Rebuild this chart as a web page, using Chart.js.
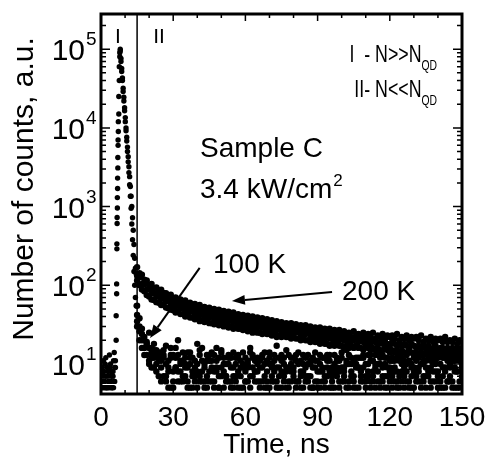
<!DOCTYPE html>
<html lang="en">
<head>
  <meta charset="UTF-8" />
  <title>PL decay, Sample C</title>
  <script src="https://cdn.jsdelivr.net/npm/chart.js"></script>
  <style>
    html, body { margin: 0; padding: 0; background: #fff; }
    #wrap { width: 490px; height: 459px; }
  </style>
</head>
<body>
  <div id="wrap"><canvas id="decayChart" width="490" height="459"></canvas></div>

  <script>
    // ---- data (time in ns, counts a.u.) ----
    // background before the pulse
    const tPre = [0.2,0.7,1.2,1.7,2.2,2.7,3.2,3.7,4.2,4.7,5.2,5.7];
    const kPre1 = [8,5,6,10,5,7,5,9,6,5,11,6];
    const kPre2 = [5,6,8,5,7,5,6,5,8,7,5,9];

    // laser pulse region: background, rise and fast decay
    const tHead = [0,0.5,1,1.5,2,2.5,3,3.5,4,4.5,5,5.5,6,
      6.3,6.5,6.6,6.7,6.8,6.9,7,7.1,7.2,7.4,7.6,7.8,8,
      8.3,8.6,8.9,9.2,9.5,9.8,10.1,10.4,10.7,11,11.3,11.6,11.9,12.2,12.5,12.8,13.1,13.4,13.7,14,14.3,14.6];
    const k200Head = [6,9,5,7,12,5,8,6,10,5,7,14,9,
      20,78,290,610,960,1700,3100,6000,9000,15000,40000,80000,100000,
      76000,57000,43000,32000,24500,18000,13500,10000,7600,5700,4300,3200,2400,1800,1350,1000,720,500,330,220,165,140];
    const k100Head = [5,7,11,6,5,9,6,13,7,5,8,6,11,
      41,104,336,727,1300,2300,4200,7000,12000,25000,60000,90000,95000,
      70000,52000,40000,29000,22000,16500,12000,9200,6800,5000,3700,2700,1900,1350,950,600,380,240,150,100,70,55];

    // tail, one bin per ns
    const tTail = [15,16,17,18,19,20,21,22,23,24,25,26,27,28,29,30,31,32,33,34,35,36,37,38,39,40,
      41,42,43,44,45,46,47,48,49,50,51,52,53,54,55,56,57,58,59,60,61,62,63,64,65,66,67,68,69,70,
      71,72,73,74,75,76,77,78,79,80,81,82,83,84,85,86,87,88,89,90,91,92,93,94,95,96,97,98,99,100,
      101,102,103,104,105,106,107,108,109,110,111,112,113,114,115,116,117,118,119,120,
      121,122,123,124,125,126,127,128,129,130,131,132,133,134,135,136,137,138,139,140,
      141,142,143,144,145,146,147,148,149,150];

    // 200 K: slow component (upper / middle / lower scatter of the band)
    const k200Hi = [170,142,136,118,115,101,104,92,94,83,88,80,79,72,76,68,70,63,66,61,
      64,57,60,55,58,52,56,50,53,48,52,47,50,45,49,44,47,43,46,42,
      45,40,43,39,42,38,41,37,40,36,39,35,38,34,37,33,36,32,35,32,
      34,31,33,30,33,30,32,29,31,28,31,28,30,27,29,26,29,26,28,25,
      28,25,27,24,27,24,
      26,23,25,22,26,23,24,22,25,23,
      24,22,25,21,23,22,24,21,23,22,
      23,21,24,20,22,21,23,20,22,21,
      22,20,23,19,21,20,22,19,21,20,
      21,19,22,19,20,19,21,18,20,19];
    const k200Mid = [132,126,104,103,88,90,79,80,72,75,
      67,70,62,64,57,60,54,57,51,54,
      48,51,46,49,44,47,42,45,40,43,
      39,42,38,40,37,39,36,38,35,37,
      34,36,32,35,32,34,31,33,30,32,
      29,31,29,31,28,30,27,29,27,29,
      26,28,26,27,25,27,25,26,24,26,
      24,25,23,25,22,24,22,23,21,23,
      21,22,20,22,20,22,20,21,19,21,
      20,21,19,20,19,20,19,18,20,19,
      18,19,18,19,18,17,19,18,17,18,
      17,18,17,16,18,17,16,17,16,17,
      16,17,15,16,17,15,16,16,15,16,
      15,16,15,16,15,16];
    const k200Lo = [115,100,88,84,75,72,66,65,61,60,56,56,52,51,49,48,45,46,43,43,
      40,41,39,39,37,38,35,36,34,35,33,33,32,33,31,32,30,31,29,30,
      28,29,28,28,27,28,26,27,25,26,25,25,24,25,24,24,23,24,22,23,
      22,23,22,22,21,22,21,21,20,21,20,20,19,20,19,19,18,19,18,18,
      17,18,17,18,17,17,
      16,17,16,17,16,17,16,16,15,17,
      16,15,16,15,16,15,15,16,15,14,
      15,14,15,14,15,14,14,15,14,13,
      14,13,14,13,14,13,13,14,13,12,
      13,14,12,13,12,14,13,12,13,12];

    // 100 K: fast decay into the background counts
    const k100A = [55,38,28,22,18,16,14,12,15,11,
      9,13,7,11,16,8,12,6,10,14,
      7,9,12,5,11,8,15,6,10,7,
      13,9,5,11,7,14,8,6,12,9,
      5,10,13,7,9,6,11,16,7,8,
      12,5,9,14,6,10,7,13,5,9,
      11,7,15,6,8,12,5,10,7,13,
      9,6,11,5,14,8,10,6,12,7,
      5,9,13,7,11,6,8,15,5,10,
      7,12,9,6,13,5,8,11,7,10,
      14,6,9,5,12,8,7,11,6,13,
      8,5,10,14,7,9,6,12,5,11,
      9,13,6,8,11,5,10,7,15,6,
      9,12,5,8,11,7];
    const k100B = [42,30,24,20,17,25,12,18,10,14,
      6,12,17,8,5,13,9,20,6,11,
      10,5,14,8,6,18,7,11,5,13,
      6,11,8,16,5,9,12,7,10,5,
      14,6,8,11,5,12,9,7,13,6,
      8,11,6,10,5,12,9,6,17,7,
      5,10,8,13,6,9,11,6,8,5,
      12,7,10,5,9,6,13,8,5,11,
      8,6,10,12,5,9,7,11,6,8,
      11,5,9,7,12,6,10,5,8,13,
      6,10,7,12,5,9,11,6,8,5,
      10,7,13,6,9,5,11,8,6,10,
      5,8,11,6,10,7,5,12,8,6,
      10,6,9,5,12,8];
    const k100C = [35,26,20,16,13,11,9,15,8,12,
      14,7,10,5,12,6,9,13,8,7,
      12,6,10,7,9,5,13,8,6,11,
      8,14,6,9,12,7,5,10,13,6,
      9,7,12,5,10,8,6,14,9,11,
      6,9,13,7,11,5,10,8,6,12,
      8,12,5,9,10,7,13,6,11,8,
      6,10,7,12,6,11,5,9,7,13,
      11,7,5,9,8,12,6,10,13,7,
      5,9,12,8,6,10,7,13,6,9,
      8,12,6,10,7,11,5,9,12,7,
      6,11,8,5,10,12,7,9,13,6,
      11,7,9,12,6,8,13,5,9,11,
      7,5,11,8,6,9];
    const k100D = [30,20,16,13,19,10,16,9,13,7,
      11,15,6,9,13,5,16,8,11,6,
      9,14,5,12,7,10,6,16,9,5,
      11,6,13,8,5,15,10,7,6,12,
      7,12,5,9,14,6,10,5,12,8,
      10,6,12,5,8,14,6,11,9,5,
      13,6,9,5,12,8,6,14,5,10,
      7,13,5,9,11,5,8,12,6,9,
      13,5,8,11,6,14,9,5,10,12,
      6,10,5,12,9,7,13,6,11,5,
      10,5,13,7,9,6,12,8,5,11,
      12,9,6,11,5,8,13,6,10,7,
      7,12,5,10,8,13,6,9,5,12,
      6,11,8,13,5,10];

    // axes
    const xTicks = [0, 30, 60, 90, 120, 150];
    const yExponents = [1, 2, 3, 4, 5];
    const regionBoundary = 15;           // ns, line between regions I and II
    const arrow100 = [[41, 166], [20.4, 21.4]];
    const arrow200 = [[96, 82], [54.4, 63]];

    const FONT = '"Liberation Sans", Arial, Helvetica, sans-serif';
    const pts = (ts, vs) => ts.map((t, i) => ({ x: t, y: vs[i] }));

    function txt(ctx, s, x, y, size, align) {
      ctx.font = size + 'px ' + FONT;
      ctx.textAlign = align || 'left';
      ctx.textBaseline = 'alphabetic';
      ctx.fillText(s, x, y);
      return ctx.measureText(s).width;
    }

    function arrow(ctx, xs, ys, a) {
      const x0 = xs.getPixelForValue(a[0][0]), y0 = ys.getPixelForValue(a[0][1]);
      const x1 = xs.getPixelForValue(a[1][0]), y1 = ys.getPixelForValue(a[1][1]);
      const ang = Math.atan2(y1 - y0, x1 - x0);
      const L = 13, W = 5;
      const bx = x1 - L * Math.cos(ang), by = y1 - L * Math.sin(ang);
      ctx.lineWidth = 2;
      ctx.beginPath(); ctx.moveTo(x0, y0); ctx.lineTo(bx, by); ctx.stroke();
      ctx.beginPath();
      ctx.moveTo(x1, y1);
      ctx.lineTo(bx + W * Math.sin(ang), by - W * Math.cos(ang));
      ctx.lineTo(bx - W * Math.sin(ang), by + W * Math.cos(ang));
      ctx.closePath(); ctx.fill();
    }

    // legend line like "I  - N>>N" with subscript QD, squeezed horizontally
    function regimeLine(ctx, main, sub, xRight, base, sx) {
      ctx.save();
      ctx.font = '24px ' + FONT;
      const w1 = ctx.measureText(main).width;
      ctx.font = '14px ' + FONT;
      const w2 = ctx.measureText(sub).width;
      ctx.translate(xRight - (w1 + w2) * sx, base);
      ctx.scale(sx, 1);
      txt(ctx, main, 0, 0, 24);
      txt(ctx, sub, w1, 8, 14);
      ctx.restore();
    }

    const decorations = {
      id: 'decorations',
      beforeDatasetsDraw(chart) {
        const { ctx, chartArea: a, scales: { x } } = chart;
        const px = x.getPixelForValue(regionBoundary);
        ctx.save();
        ctx.strokeStyle = '#000';
        ctx.lineWidth = 1.5;
        ctx.beginPath(); ctx.moveTo(px, a.top); ctx.lineTo(px, a.bottom); ctx.stroke();
        ctx.restore();
      },
      afterDatasetsDraw(chart) {
        const { ctx, chartArea: a, scales: { x, y } } = chart;
        ctx.save();
        ctx.strokeStyle = '#000';
        ctx.fillStyle = '#000';

        // inward ticks, all four sides
        ctx.lineWidth = 1.5;
        ctx.beginPath();
        for (let v = 0; v <= 150; v += 10) {
          const p = x.getPixelForValue(v);
          const len = xTicks.includes(v) ? 7 : 4;
          ctx.moveTo(p, a.bottom); ctx.lineTo(p, a.bottom - len);
          ctx.moveTo(p, a.top); ctx.lineTo(p, a.top + len);
        }
        for (let e = 0; e <= 5; e++) {
          for (let m = 1; m <= 9; m++) {
            const v = m * Math.pow(10, e);
            if (v < y.min || v > y.max) continue;
            const p = y.getPixelForValue(v);
            const len = m === 1 ? 9 : 5;
            ctx.moveTo(a.left, p); ctx.lineTo(a.left + len, p);
            ctx.moveTo(a.right, p); ctx.lineTo(a.right - len, p);
          }
        }
        ctx.stroke();

        // frame
        ctx.lineWidth = 3;
        ctx.strokeRect(a.left, a.top, a.right - a.left, a.bottom - a.top);

        // tick labels
        xTicks.forEach(v => txt(ctx, String(v), x.getPixelForValue(v), a.bottom + 32, 28, 'center'));
        yExponents.forEach(e => {
          const p = y.getPixelForValue(Math.pow(10, e));
          txt(ctx, '10', a.left - 16, p + 11, 30, 'right');
          txt(ctx, String(e), a.left - 15, p - 4, 19, 'left');
        });

        // axis titles
        txt(ctx, 'Time, ns', (a.left + a.right) / 2 - 5, a.bottom + 59, 28, 'center');
        ctx.save();
        ctx.translate(33, 189);
        ctx.rotate(-Math.PI / 2);
        txt(ctx, 'Number of counts, a.u.', 0, 0, 30, 'center');
        ctx.restore();

        // region marks
        txt(ctx, 'I', a.left + 17, a.top + 29, 21, 'center');
        txt(ctx, 'II', a.left + 58, a.top + 29, 21, 'center');
        regimeLine(ctx, 'I  - N>>N', 'QD', 437, 62, 0.74);
        regimeLine(ctx, 'II- N<<N', 'QD', 437, 97, 0.74);

        // sample info
        txt(ctx, 'Sample C', 200, 157, 28);
        const w = txt(ctx, '3.4 kW/cm', 200, 198, 28);
        txt(ctx, '2', 200 + w + 1, 186, 17);

        // temperature labels and arrows
        txt(ctx, '100 K', 213, 273, 28);
        txt(ctx, '200 K', 342, 300, 28);
        arrow(ctx, x, y, arrow100);
        arrow(ctx, x, y, arrow200);
        ctx.restore();
      }
    };

    const dot = { pointRadius: 2.7, pointBackgroundColor: '#000', pointBorderWidth: 0, showLine: false };
    const bigDot = { ...dot, pointRadius: 3.2 };

    new Chart(document.getElementById('decayChart'), {
      type: 'scatter',
      data: {
        datasets: [
          { label: 'background 1', data: pts(tPre, kPre1), ...dot },
          { label: 'background 2', data: pts(tPre, kPre2), ...dot },
          { label: '200 K', data: pts(tHead, k200Head), ...dot },
          { label: '100 K', data: pts(tHead, k100Head), ...dot },
          { label: '200 K hi', data: pts(tTail, k200Hi), ...bigDot },
          { label: '200 K mid', data: pts(tTail, k200Mid), ...bigDot },
          { label: '200 K lo', data: pts(tTail, k200Lo), ...bigDot },
          { label: '100 K a', data: pts(tTail, k100A), ...bigDot },
          { label: '100 K b', data: pts(tTail, k100B), ...bigDot },
          { label: '100 K c', data: pts(tTail, k100C), ...bigDot },
          { label: '100 K d', data: pts(tTail, k100D), ...bigDot }
        ]
      },
      options: {
        responsive: false,
        animation: false,
        events: [],
        layout: { padding: { left: 101, top: 14, right: 28, bottom: 65 } },
        plugins: { legend: { display: false }, tooltip: { enabled: false } },
        scales: {
          x: { type: 'linear', min: 0, max: 150, display: false },
          y: { type: 'logarithmic', min: 4.15, max: 280000, display: false }
        }
      },
      plugins: [decorations]
    });
  </script>
</body>
</html>
